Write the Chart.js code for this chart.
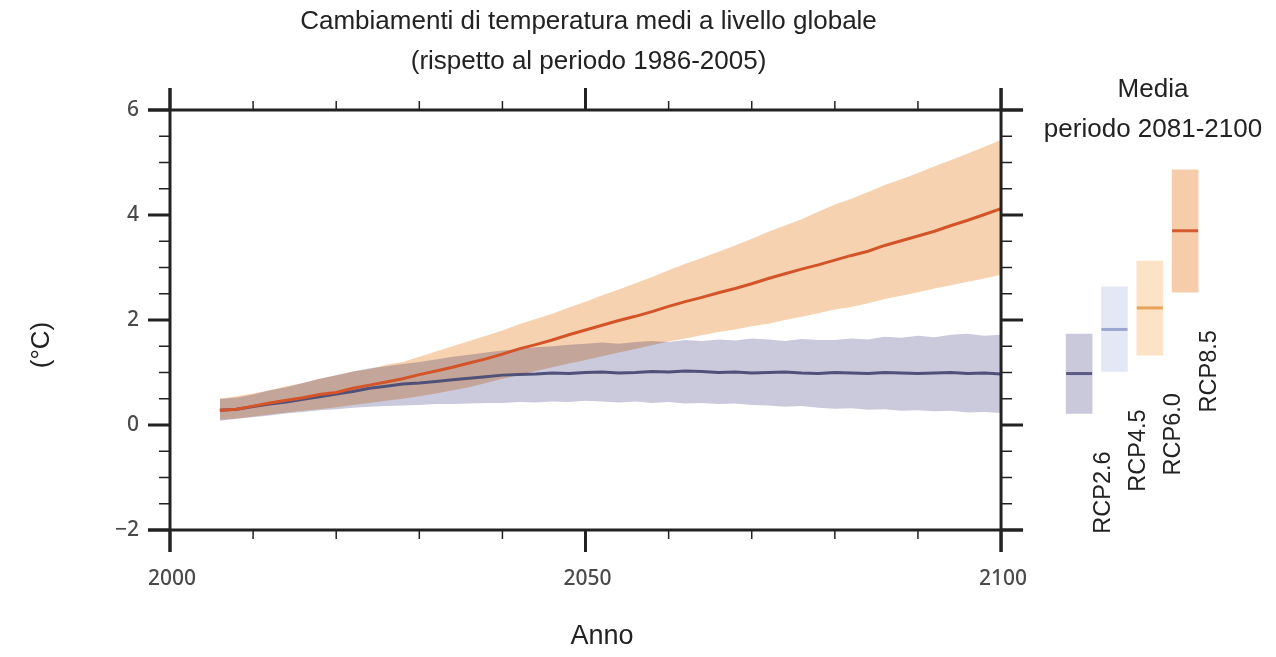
<!DOCTYPE html>
<html>
<head>
<meta charset="utf-8">
<script src="https://cdn.jsdelivr.net/npm/chart.js@4.4.0/dist/chart.umd.min.js"></script>
<style>
  body { margin: 0; background: #fff; }
</style>
</head>
<body>
<canvas id="myChart" width="1276" height="657"></canvas>
<script>
// anni (passo 2 anni)
const years = [2006, 2008, 2010, 2012, 2014, 2016, 2018, 2020, 2022, 2024, 2026, 2028,
  2030, 2032, 2034, 2036, 2038, 2040, 2042, 2044, 2046, 2048, 2050, 2052,
  2054, 2056, 2058, 2060, 2062, 2064, 2066, 2068, 2070, 2072, 2074, 2076,
  2078, 2080, 2082, 2084, 2086, 2088, 2090, 2092, 2094, 2096, 2098, 2100];

// RCP8.5: media, limite superiore, limite inferiore
const m85 = [0.28, 0.30, 0.36, 0.42, 0.47, 0.52, 0.58, 0.62, 0.70, 0.76, 0.82, 0.88,
  0.96, 1.03, 1.10, 1.18, 1.26, 1.35, 1.45, 1.53, 1.62, 1.72, 1.81, 1.90,
  1.99, 2.07, 2.16, 2.26, 2.35, 2.43, 2.52, 2.60, 2.69, 2.79, 2.88, 2.97,
  3.05, 3.14, 3.23, 3.31, 3.42, 3.51, 3.60, 3.69, 3.80, 3.90, 4.01, 4.12];
const u85 = [0.50, 0.55, 0.60, 0.66, 0.74, 0.80, 0.88, 0.95, 1.02, 1.06, 1.15, 1.20,
  1.30, 1.40, 1.50, 1.60, 1.70, 1.80, 1.92, 2.02, 2.12, 2.24, 2.35, 2.47,
  2.58, 2.70, 2.82, 2.95, 3.07, 3.18, 3.30, 3.42, 3.55, 3.68, 3.80, 3.92,
  4.06, 4.20, 4.31, 4.44, 4.57, 4.68, 4.80, 4.93, 5.05, 5.17, 5.30, 5.43];
const l85 = [0.10, 0.12, 0.16, 0.20, 0.24, 0.27, 0.30, 0.34, 0.38, 0.42, 0.46, 0.50,
  0.55, 0.60, 0.66, 0.72, 0.80, 0.88, 0.95, 1.03, 1.10, 1.17, 1.24, 1.31,
  1.38, 1.45, 1.52, 1.59, 1.65, 1.71, 1.77, 1.82, 1.88, 1.93, 2.00, 2.06,
  2.13, 2.20, 2.25, 2.32, 2.40, 2.46, 2.53, 2.60, 2.66, 2.73, 2.79, 2.86];

// RCP2.6: media, limite superiore, limite inferiore
const m26 = [0.28, 0.30, 0.35, 0.40, 0.44, 0.49, 0.54, 0.59, 0.64, 0.70, 0.74, 0.78,
  0.80, 0.83, 0.86, 0.89, 0.92, 0.95, 0.96, 0.97, 0.99, 0.98, 1.00, 1.01,
  0.99, 1.00, 1.02, 1.01, 1.03, 1.02, 1.00, 1.01, 0.99, 1.00, 1.01, 0.99,
  0.98, 1.00, 0.99, 0.98, 1.00, 0.99, 0.98, 0.99, 1.00, 0.98, 0.99, 0.97];
const u26 = [0.50, 0.52, 0.58, 0.66, 0.72, 0.80, 0.88, 0.95, 1.02, 1.08, 1.12, 1.16,
  1.20, 1.25, 1.30, 1.34, 1.38, 1.42, 1.45, 1.48, 1.50, 1.53, 1.55, 1.57,
  1.55, 1.58, 1.60, 1.58, 1.62, 1.60, 1.63, 1.61, 1.65, 1.63, 1.60, 1.64,
  1.62, 1.62, 1.65, 1.63, 1.68, 1.66, 1.70, 1.67, 1.72, 1.74, 1.70, 1.72];
const l26 = [0.08, 0.12, 0.15, 0.18, 0.22, 0.25, 0.28, 0.30, 0.33, 0.35, 0.36, 0.37,
  0.38, 0.40, 0.40, 0.41, 0.42, 0.42, 0.44, 0.43, 0.45, 0.44, 0.46, 0.45,
  0.43, 0.45, 0.42, 0.44, 0.41, 0.42, 0.40, 0.41, 0.38, 0.37, 0.35, 0.36,
  0.33, 0.31, 0.32, 0.29, 0.30, 0.27, 0.28, 0.26, 0.27, 0.24, 0.25, 0.23];

// media periodo 2081-2100
const rcpLabels = ["RCP2.6", "RCP4.5", "RCP6.0", "RCP8.5"];
const boxLow = [0.22, 1.02, 1.33, 2.53];
const boxHigh = [1.73, 2.63, 3.12, 4.86];
const boxMean = [0.98, 1.82, 2.23, 3.70];

const xTickLabels = [2000, 2050, 2100];
const yTickLabels = [-2, 0, 2, 4, 6];

const boxColors = ["#cac8db", "#e4e8f5", "#fce3c5", "#f6cdab"];
const meanColors = ["#5b5a82", "#9aa6d0", "#e9a25a", "#d45a30"];

const pts = (arr) => years.map((yr, i) => ({ x: yr, y: arr[i] }));

const textFont = "'Liberation Sans', Arial, sans-serif";
const tickFont = "'Noto Sans', 'Open Sans', sans-serif";

const frame = {
  id: "frame",
  beforeDatasetsDraw(chart) { chart.ctx.globalCompositeOperation = "multiply"; },
  beforeDatasetDraw(chart) { chart.ctx.globalCompositeOperation = "source-over"; },
  afterDatasetDraw(chart) { chart.ctx.globalCompositeOperation = "multiply"; },
  afterDatasetsDraw(chart) { chart.ctx.globalCompositeOperation = "source-over"; },
  afterDraw(chart) {
    const { ctx, scales } = chart;
    const x = scales.x, y = scales.y, xb = scales.xb;
    const L = x.getPixelForValue(2000), R = x.getPixelForValue(2100);
    const T = y.getPixelForValue(6), B = y.getPixelForValue(-2);
    const ext = 22;
    ctx.save();
    ctx.strokeStyle = "#222";
    ctx.lineCap = "butt";

    function line(x1, y1, x2, y2, w) {
      ctx.lineWidth = w;
      ctx.beginPath();
      ctx.moveTo(x1, y1);
      ctx.lineTo(x2, y2);
      ctx.stroke();
    }

    // cornice
    line(L - ext, T, R + ext, T, 3);
    line(L - ext, B, R + ext, B, 3);
    line(L, T - ext, L, B + ext, 3);
    line(R, T - ext, R, B + ext, 3);

    // tacche y
    for (let v = -2; v <= 6; v += 0.5) {
      const py = y.getPixelForValue(v);
      if (yTickLabels.includes(v)) {
        line(L - ext, py, L, py, 3);
        line(R, py, R + ext, py, 3);
      } else {
        line(L - 11, py, L, py, 1.5);
        line(R, py, R + 11, py, 1.5);
      }
    }
    // tacche x
    for (let v = 2000; v <= 2100; v += 10) {
      const px = x.getPixelForValue(v);
      if (xTickLabels.includes(v)) {
        line(px, T - ext, px, T, 3);
        line(px, B, px, B + ext, 3);
      } else {
        line(px, T - 9, px, T, 1.5);
        line(px, B, px, B + 9, 1.5);
      }
    }

    // etichette tacche
    ctx.fillStyle = "#4a4a4a";
    ctx.font = "500 21px " + tickFont;
    ctx.textAlign = "right";
    ctx.textBaseline = "middle";
    yTickLabels.forEach((v) => {
      ctx.fillText(String(v).replace("-", "\u2212"), L - 31, y.getPixelForValue(v));
    });
    ctx.textAlign = "center";
    xTickLabels.forEach((v) => {
      ctx.fillText(String(v), x.getPixelForValue(v) + 2, B + 49);
    });

    // titoli
    ctx.fillStyle = "#222";
    ctx.font = "26px " + textFont;
    const cx = x.getPixelForValue(2050) + 3;
    ctx.fillText("Cambiamenti di temperatura medi a livello globale", cx, 22);
    ctx.fillText("(rispetto al periodo 1986-2005)", cx, 62);
    ctx.fillText("Media", 1153, 90);
    ctx.fillText("periodo 2081-2100", 1153, 130);
    ctx.font = "27px " + textFont;
    ctx.fillText("Anno", 602, 637);

    ctx.save();
    ctx.translate(42, 345);
    ctx.rotate(-Math.PI / 2);
    ctx.font = "26px " + textFont;
    ctx.fillText("(°C)", 0, 0);
    ctx.restore();

    ctx.font = "23.5px " + textFont;
    ctx.textAlign = "right";
    rcpLabels.forEach((lab, i) => {
      ctx.save();
      ctx.translate(xb.getPixelForValue(i) + 24, y.getPixelForValue(boxLow[i]) + 38);
      ctx.rotate(-Math.PI / 2);
      ctx.fillText(lab, 0, 0);
      ctx.restore();
    });
    ctx.restore();
  }
};

const ctx = document.getElementById("myChart");
const clear = "rgba(0,0,0,0)";

new Chart(ctx, {
  type: "line",
  data: {
    datasets: [
      { data: pts(m85), borderColor: "#d4542a", borderWidth: 3, pointRadius: 0, fill: false },
      { data: pts(m26), borderColor: "#4f5178", borderWidth: 3, pointRadius: 0, fill: false },
      { data: pts(u85), borderColor: clear, borderWidth: 0, pointRadius: 0, fill: "+1", backgroundColor: "#f7d2b1" },
      { data: pts(l85), borderColor: clear, borderWidth: 0, pointRadius: 0, fill: false },
      { data: pts(u26), borderColor: clear, borderWidth: 0, pointRadius: 0, fill: "+1", backgroundColor: "#cbc9dc" },
      { data: pts(l26), borderColor: clear, borderWidth: 0, pointRadius: 0, fill: false },
      {
        type: "scatter",
        xAxisID: "xb",
        data: rcpLabels.map((_, i) => ({ x: i, y: boxMean[i] })),
        pointStyle: "line",
        pointRadius: 13,
        pointBorderWidth: 3,
        pointBorderColor: meanColors,
        borderColor: meanColors,
        showLine: false
      },
      {
        type: "bar",
        xAxisID: "xb",
        grouped: false,
        data: rcpLabels.map((_, i) => ({ x: i, y: [boxLow[i], boxHigh[i]] })),
        backgroundColor: boxColors,
        borderWidth: 0,
        barThickness: 26
      }
    ]
  },
  options: {
    responsive: false,
    animation: false,
    layout: { padding: { left: 170, top: 110, right: 46, bottom: 127 } },
    plugins: { legend: { display: false }, tooltip: { enabled: false }, title: { display: false } },
    scales: {
      x: { type: "linear", min: 2000, max: 2127.55, display: false, offset: false },
      xb: { type: "linear", min: -25.73, max: 4.27, display: false, offset: false },
      y: { type: "linear", min: -2, max: 6, display: false }
    }
  },
  plugins: [frame]
});
</script>
</body>
</html>
